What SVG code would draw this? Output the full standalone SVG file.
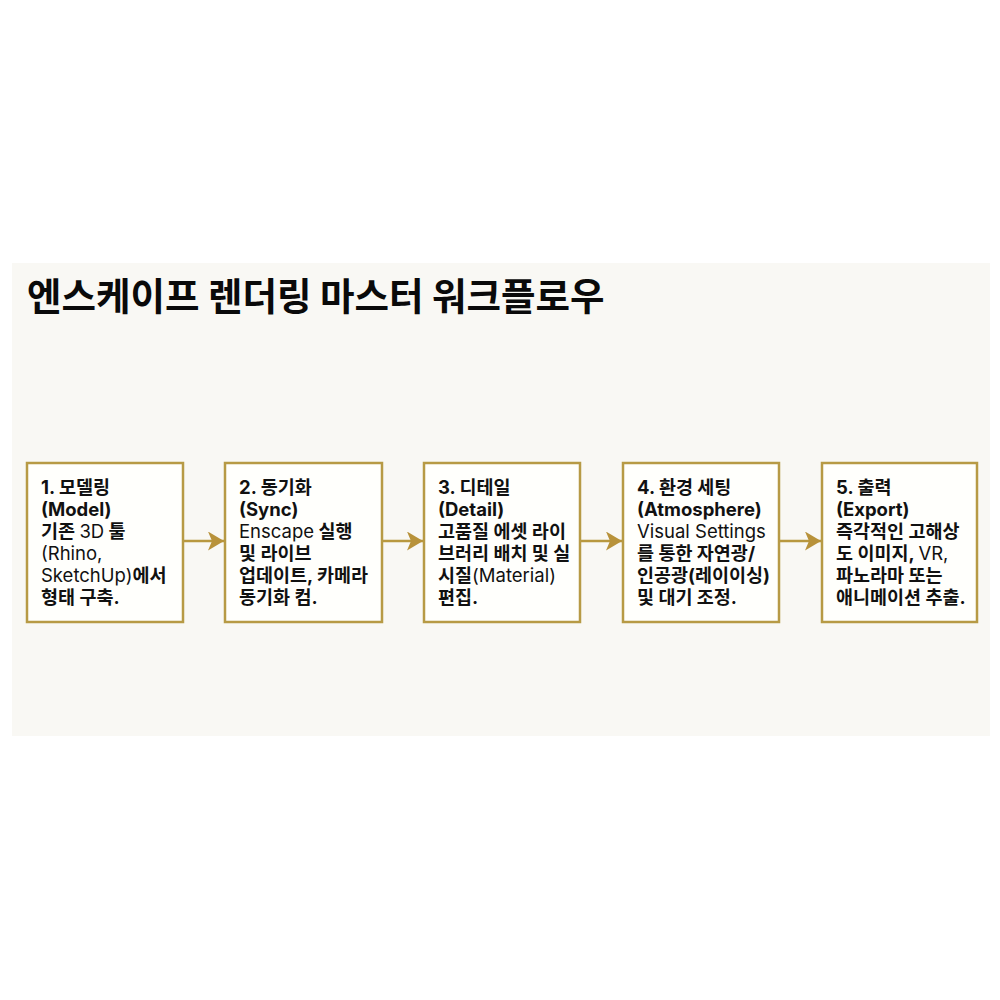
<svg xmlns="http://www.w3.org/2000/svg" width="1000" height="1000" viewBox="0 0 1000 1000">
<defs>
<style>
.t{font-family:Inter,"Noto Sans CJK KR",sans-serif;font-size:18.5px;fill:#111;font-weight:700}
.r{font-weight:400}
.box{fill:#fffffc;stroke:#b79a45;stroke-width:2.5}
.ln{stroke:#b8983f;stroke-width:2.5;fill:none}
.title{font-family:"Noto Sans CJK KR",sans-serif;font-size:37.5px;font-weight:700;fill:#0a0a0a}
</style>
<marker id="ah" markerUnits="userSpaceOnUse" markerWidth="18" markerHeight="20" refX="16" refY="9.5" orient="auto">
<path d="M0,0 L16,9.5 L0,19 L4,9.5 Z" fill="#b8923a"/>
</marker>
</defs>
<rect x="0" y="0" width="1000" height="1000" fill="#ffffff"/>
<rect x="12" y="263" width="978" height="473" fill="#f9f8f4"/>
<text class="title" x="27" y="310">엔스케이프 렌더링 마스터 워크플로우</text>
<g id="connectors">
<line class="ln" x1="183" y1="541" x2="224" y2="541" marker-end="url(#ah)"/>
<line class="ln" x1="382" y1="541" x2="423" y2="541" marker-end="url(#ah)"/>
<line class="ln" x1="580" y1="541" x2="622" y2="541" marker-end="url(#ah)"/>
<line class="ln" x1="779" y1="541" x2="821" y2="541" marker-end="url(#ah)"/>
</g>
<g id="node1">
<rect class="box" x="27" y="463" width="156" height="159"/>
<text class="t" x="41" y="494">1. 모델링</text>
<text class="t" x="41" y="516">(Model)</text>
<text class="t" x="41" y="538">기존 <tspan class="r">3D</tspan> 툴</text>
<text class="t r" x="41" y="560">(Rhino,</text>
<text class="t" x="41" y="582"><tspan class="r">SketchUp)</tspan>에서</text>
<text class="t" x="41" y="604">형태 구축.</text>
</g>
<g id="node2">
<rect class="box" x="225" y="463" width="157" height="159"/>
<text class="t" x="239" y="494">2. 동기화</text>
<text class="t" x="239" y="516">(Sync)</text>
<text class="t" x="239" y="538"><tspan class="r">Enscape</tspan> 실행</text>
<text class="t" x="239" y="560">및 라이브</text>
<text class="t" x="239" y="582">업데이트, 카메라</text>
<text class="t" x="239" y="604">동기화 컴.</text>
</g>
<g id="node3">
<rect class="box" x="424" y="463" width="156" height="159"/>
<text class="t" x="438" y="494">3. 디테일</text>
<text class="t" x="438" y="516">(Detail)</text>
<text class="t" x="438" y="538">고품질 에셋 라이</text>
<text class="t" x="438" y="560">브러리 배치 및 실</text>
<text class="t" x="438" y="582">시질<tspan class="r">(Material)</tspan></text>
<text class="t" x="438" y="604">편집.</text>
</g>
<g id="node4">
<rect class="box" x="623" y="463" width="156" height="159"/>
<text class="t" x="637" y="494">4. 환경 세팅</text>
<text class="t" x="637" y="516">(Atmosphere)</text>
<text class="t r" x="637" y="538">Visual Settings</text>
<text class="t" x="637" y="560">를 통한 자연광/</text>
<text class="t" x="637" y="582">인공광(레이이싱)</text>
<text class="t" x="637" y="604">및 대기 조정.</text>
</g>
<g id="node5">
<rect class="box" x="822" y="463" width="155" height="159"/>
<text class="t" x="836" y="494">5. 출력</text>
<text class="t" x="836" y="516">(Export)</text>
<text class="t" x="836" y="538">즉각적인 고해상</text>
<text class="t" x="836" y="560">도 이미지, <tspan class="r">VR,</tspan></text>
<text class="t" x="836" y="582">파노라마 또는</text>
<text class="t" x="836" y="604">애니메이션 추출.</text>
</g>
</svg>
